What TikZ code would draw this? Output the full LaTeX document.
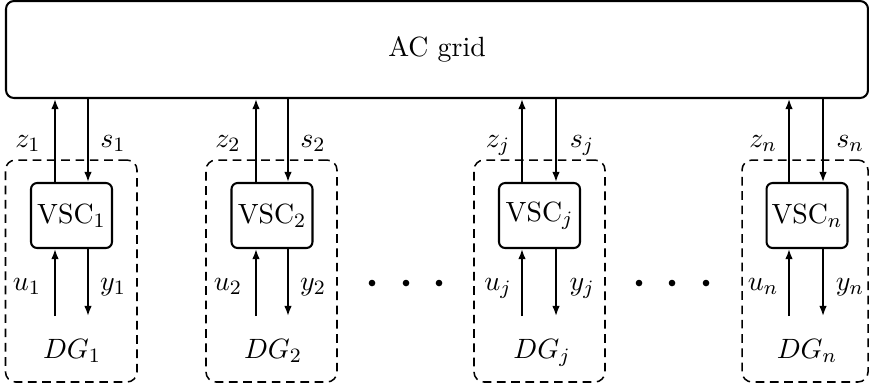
\documentclass[tikz,border=0pt]{standalone}
\usetikzlibrary{arrows.meta}
\begin{document}
\begin{tikzpicture}[x=0.392pt,y=-0.392pt,
  every node/.append style={font=\fontsize{10.9pt}{13pt}\selectfont},
  gridbox/.style={draw,thick,rounded corners=3.1pt,minimum width=337.9pt,minimum height=38pt,inner sep=0pt},
  vscbox/.style={draw,thick,rounded corners=2.4pt,minimum width=31.75pt,minimum height=25.48pt,inner sep=0pt},
  dgbox/.style={draw,semithick,dash pattern=on 3.4pt off 2.2pt,rounded corners=3.9pt,minimum height=87pt,inner sep=0pt},
  sig/.style={line width=0.65pt,-{Latex[length=4pt,width=3pt]}},
  lbl/.style={anchor=base,inner sep=0pt},
  dot/.style={circle,fill,inner sep=0pt,minimum size=2.6pt}]
\useasboundingbox (0,0) rectangle (869,388);
\node[gridbox] (grid) at (437,49.5) {AC grid};
% dashed groups
\node[dgbox,minimum width=51.55pt] (g1) at (71.25,271) {};
\node[dgbox,minimum width=51.35pt] (g2) at (271.5,271) {};
\node[dgbox,minimum width=51.35pt] (gj) at (539.5,271) {};
\node[dgbox,minimum width=49.39pt] (gn) at (805,271) {};
% VSC boxes
\node[vscbox] (v1) at (71.5,215.5) {VSC$_1$};
\node[vscbox] (v2) at (272,215.5) {VSC$_2$};
\node[vscbox] (vj) at (539.5,215.5) {VSC$_j$};
\node[vscbox] (vn) at (807,215.5) {VSC$_n$};
% free ends
\coordinate (a1) at (55,316);  \coordinate (b1) at (88,316);
\coordinate (a2) at (256,316); \coordinate (b2) at (288,316);
\coordinate (aj) at (522,316); \coordinate (bj) at (556,316);
\coordinate (an) at (789,316); \coordinate (bn) at (823,316);
\foreach \k in {1,2,j,n}{
  \draw[sig] (v\k.north -| a\k) -- (grid.south -| a\k);
  \draw[sig] (grid.south -| b\k) -- (v\k.north -| b\k);
  \draw[sig] (a\k) -- (v\k.south -| a\k);
  \draw[sig] (v\k.south -| b\k) -- (b\k);
}
% labels
\node[lbl] (z1) at (28,147) {$z_1$};  \node[lbl] (s1) at (113,147) {$s_1$};
\node[lbl] (u1) at (27,290) {$u_1$};  \node[lbl] (y1) at (113,290) {$y_1$};
\node[lbl] (d1) at (72,358) {$DG_1$};
\node[lbl] (z2) at (228,147) {$z_2$};  \node[lbl] (s2) at (313,147) {$s_2$};
\node[lbl] (u2) at (228,290) {$u_2$};  \node[lbl] (y2) at (313,290) {$y_2$};
\node[lbl] (d2) at (273,358) {$DG_2$};
\node[lbl] (zj) at (498,147) {$z_j$};  \node[lbl] (sj) at (582,147) {$s_j$};
\node[lbl] (uj) at (498,290) {$u_j$};  \node[lbl] (yj) at (582,290) {$y_j$};
\node[lbl] (dj) at (542,358) {$DG_j$};
\node[lbl] (zn) at (763,147) {$z_n$};  \node[lbl] (sn) at (850,147) {$s_n$};
\node[lbl] (un) at (763,290) {$u_n$};  \node[lbl] (yn) at (850,290) {$y_n$};
\node[lbl] (dn) at (807,358) {$DG_n$};
% dots
\node[dot] (p1) at (372,283) {}; \node[dot] (p2) at (406,283) {}; \node[dot] (p3) at (439,283) {};
\node[dot] (q1) at (639,283) {}; \node[dot] (q2) at (672,283) {}; \node[dot] (q3) at (706,283) {};
\end{tikzpicture}
\end{document}
